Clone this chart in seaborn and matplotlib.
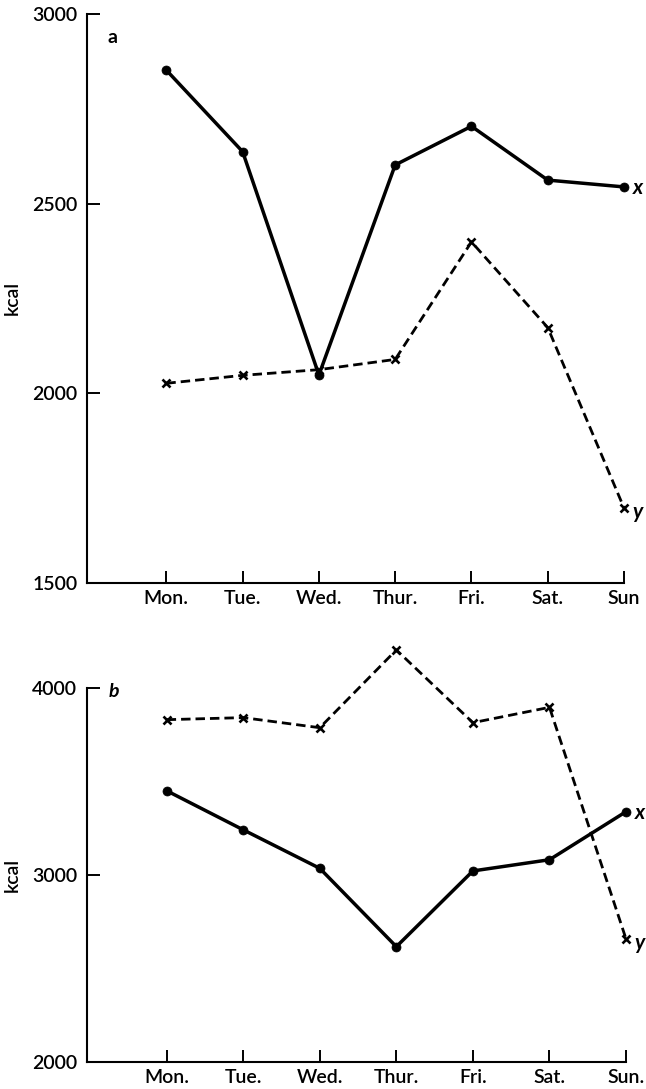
import pandas as pd
import matplotlib
matplotlib.use('Agg')
import matplotlib.pyplot as plt
import seaborn as sns

# valores (kcal por dia)
dias = [0, 1, 2, 3, 4, 5, 6]
etiquetas_a = ['Mon.', 'Tue.', 'Wed.', 'Thur.', 'Fri.', 'Sat.', 'Sun']
etiquetas_b = ['Mon.', 'Tue.', 'Wed.', 'Thur.', 'Fri.', 'Sat.', 'Sun.']

a_x = [2852, 2637, 2048, 2602, 2704, 2562, 2544]
a_y = [2026, 2047, 2062, 2089, 2399, 2173, 1697]
b_x = [3449, 3240, 3034, 2615, 3020, 3080, 3337]
b_y = [3829, 3840, 3786, 4202, 3813, 3895, 2656]

sns.set_style('ticks')
plt.rcParams['font.family'] = ['Lato', 'DejaVu Sans']
plt.rcParams['text.color'] = 'black'
plt.rcParams['xtick.color'] = 'black'
plt.rcParams['ytick.color'] = 'black'
plt.rcParams['axes.labelcolor'] = 'black'
plt.rcParams['axes.edgecolor'] = 'black'

fig = plt.figure(figsize=(6.46, 10.89), dpi=100)
ax_a = fig.add_axes([0.1347, 0.4649, 0.8313, 0.5222])
ax_b = fig.add_axes([0.1347, 0.0251, 0.8344, 0.3434])


def panel(ax, xs, ys, etiquetas, ylim, yticks, letra, letra_pos, letra_estilo):
    df = pd.DataFrame({'dia': dias, 'x': xs, 'y': ys})
    sns.lineplot(data=df, x='dia', y='x', ax=ax, color='black', lw=2.5,
                 marker='o', markersize=6.5, markeredgecolor='black',
                 markeredgewidth=0.5, clip_on=False)
    sns.lineplot(data=df, x='dia', y='y', ax=ax, color='black', lw=2.0,
                 linestyle=(0, (3.4, 1.8)), marker='x', markersize=5.5,
                 markeredgecolor='black', markeredgewidth=1.9, clip_on=False)
    ax.set_xlim(-1.04, 6)
    ax.set_ylim(*ylim)
    ax.set_xticks(dias)
    ax.set_xticklabels(etiquetas, fontsize=14, fontweight='semibold')
    ax.set_yticks(yticks)
    ax.set_yticklabels([str(t) for t in yticks], fontsize=14,
                       fontweight='semibold')
    ax.tick_params(direction='in', length=9, width=1.4, pad=5)
    ax.tick_params(axis='y', pad=7)
    ax.set_xlabel('')
    ax.set_ylabel('kcal', fontsize=14, fontweight='semibold', labelpad=8)
    sns.despine(ax=ax)
    for s in ['left', 'bottom']:
        ax.spines[s].set_linewidth(1.5)
    ax.text(letra_pos[0], letra_pos[1], letra, transform=ax.transAxes,
            fontsize=14, ha='center', va='center', style=letra_estilo,
            fontweight='bold')
    ax.annotate('x', xy=(dias[-1], xs[-1]), xytext=(6, -1),
                textcoords='offset points', fontsize=15, style='italic',
                fontweight='bold', ha='left', va='center')
    ax.annotate('y', xy=(dias[-1], ys[-1]), xytext=(6, -3),
                textcoords='offset points', fontsize=15, style='italic',
                fontweight='bold', ha='left', va='center')


panel(ax_a, a_x, a_y, etiquetas_a, (1500, 3000), [1500, 2000, 2500, 3000],
      'a', (0.048, 0.959), 'normal')
panel(ax_b, b_x, b_y, etiquetas_b, (2000, 4000), [2000, 3000, 4000],
      'b', (0.049, 0.99), 'italic')

plt.savefig('out.png', dpi=100)
plt.close()
